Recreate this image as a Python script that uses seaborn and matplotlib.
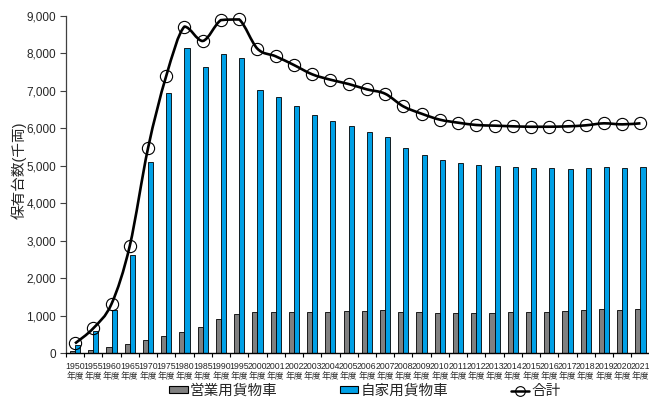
import numpy as np
import pandas as pd
import matplotlib
matplotlib.use("Agg")
import matplotlib.pyplot as plt
import seaborn as sns
from matplotlib.path import Path
from matplotlib.patches import PathPatch, Patch
from matplotlib.lines import Line2D

# Fiscal years
years = [1950, 1955, 1960, 1965, 1970, 1975, 1980, 1985, 1990, 1995,
         2000, 2001, 2002, 2003, 2004, 2005, 2006, 2007, 2008, 2009,
         2010, 2011, 2012, 2013, 2014, 2015, 2016, 2017, 2018, 2019,
         2020, 2021]

# Trucks in use, thousands
commercial = [53, 80, 169, 249, 356, 462, 578, 693, 907, 1040,
              1093, 1093, 1093, 1093, 1109, 1128, 1137, 1146, 1109, 1093,
              1075, 1075, 1075, 1084, 1093, 1100, 1109, 1128, 1146, 1173,
              1164, 1173]
private = [210, 587, 1147, 2613, 5109, 6933, 8133, 7635, 7978, 7862,
           7029, 6827, 6595, 6347, 6187, 6053, 5901, 5776, 5475, 5296,
           5155, 5075, 5013, 4987, 4960, 4941, 4933, 4924, 4933, 4960,
           4941, 4960]
total = [c + p for c, p in zip(commercial, private)]

series_names = ["営業用貨物車", "自家用貨物車", "合計"]
tick_labels = [f"{y}\n年度" for y in years]

GRAY = "#808080"
BLUE = "#00A0E6"

sns.set_theme(style="ticks")
plt.rcParams["font.family"] = ["Liberation Sans", "Noto Sans CJK JP", "DejaVu Sans"]

fig = plt.figure(figsize=(6.49, 4.00), dpi=100)
ax = fig.add_axes([65.9 / 649, 1 - 353.3 / 400, (649.6 - 65.9) / 649, (353.3 - 15.8) / 400])

df = pd.DataFrame({
    "year": [str(y) for y in years] * 2,
    "kind": [series_names[0]] * len(years) + [series_names[1]] * len(years),
    "value": commercial + private,
})

sns.barplot(data=df, x="year", y="value", hue="kind",
            hue_order=series_names[:2], palette=[GRAY, BLUE],
            width=0.56, saturation=1, edgecolor="black", linewidth=0.6,
            legend=False, ax=ax)

# Smoothed total line: cubic Bezier through each point, with the control
# points kept inside each segment's vertical range so peaks do not overshoot
n = len(total)
P = np.column_stack([np.arange(n, dtype=float), np.array(total, dtype=float)])
k = 1.0 / 6.0
verts = [tuple(P[0])]
codes = [Path.MOVETO]
for i in range(n - 1):
    p_prev = P[i - 1] if i > 0 else P[i]
    p_next2 = P[i + 2] if i + 2 < n else P[i + 1]
    c1 = P[i] + (P[i + 1] - p_prev) * k
    c2 = P[i + 1] - (p_next2 - P[i]) * k
    lo, hi = min(P[i, 1], P[i + 1, 1]), max(P[i, 1], P[i + 1, 1])
    c1[1] = np.clip(c1[1], lo, hi)
    c2[1] = np.clip(c2[1], lo, hi)
    verts += [tuple(c1), tuple(c2), tuple(P[i + 1])]
    codes += [Path.CURVE4] * 3
ax.add_patch(PathPatch(Path(verts, codes), facecolor="none",
                       edgecolor="black", lw=1.9, zorder=3, clip_on=False))
ax.plot(np.arange(n), total, ls="none", marker="o", mfc="none",
        mec="black", ms=8.8, mew=0.8, zorder=4, clip_on=False)

# Axes styling
ax.set_xlim(-0.5, n - 0.5)
ax.set_ylim(0, 9000)
ax.set_yticks(range(0, 9001, 1000))
ax.set_yticklabels([f"{v:,}" for v in range(0, 9001, 1000)], fontsize=8.5)
ax.set_xticks(range(n))
ax.set_xticklabels(tick_labels, fontsize=6.3, linespacing=1.25,
                   family=["Liberation Sans Narrow", "Liberation Sans", "Noto Sans CJK JP"])
ax.set_xticks(np.arange(-0.5, n, 1.0), minor=True)
ax.tick_params(axis="x", which="major", length=0, pad=6)
ax.tick_params(axis="x", which="minor", length=3, width=0.8, color="black", direction="out")
ax.tick_params(axis="y", which="major", length=4, width=0.8, color="#404040", pad=3,
               direction="out")
ax.set_xlabel("")
ax.set_ylabel("")
sns.despine(ax=ax)
ax.spines["left"].set_color("#404040")
ax.spines["left"].set_linewidth(0.9)
ax.spines["bottom"].set_color("black")
ax.spines["bottom"].set_linewidth(1.0)

fig.text(18.5 / 649, 1 - 170 / 400, "保有台数(千両)", rotation=90,
         ha="center", va="center", fontsize=10.5)

handles = [
    Patch(facecolor=GRAY, edgecolor="black", linewidth=0.8),
    Patch(facecolor=BLUE, edgecolor="black", linewidth=0.8),
    Line2D([], [], color="black", lw=1.8, marker="o", mfc="none", mec="black", ms=7, mew=0.8),
]
fig.legend(handles, series_names, loc="center", bbox_to_anchor=(365 / 649, 1 - 391 / 400),
           ncol=3, frameon=False, fontsize=10.5, handlelength=1.25, handleheight=0.4,
           handletextpad=0.15, columnspacing=4.3, borderpad=0)

fig.savefig("out.png", dpi=100)
